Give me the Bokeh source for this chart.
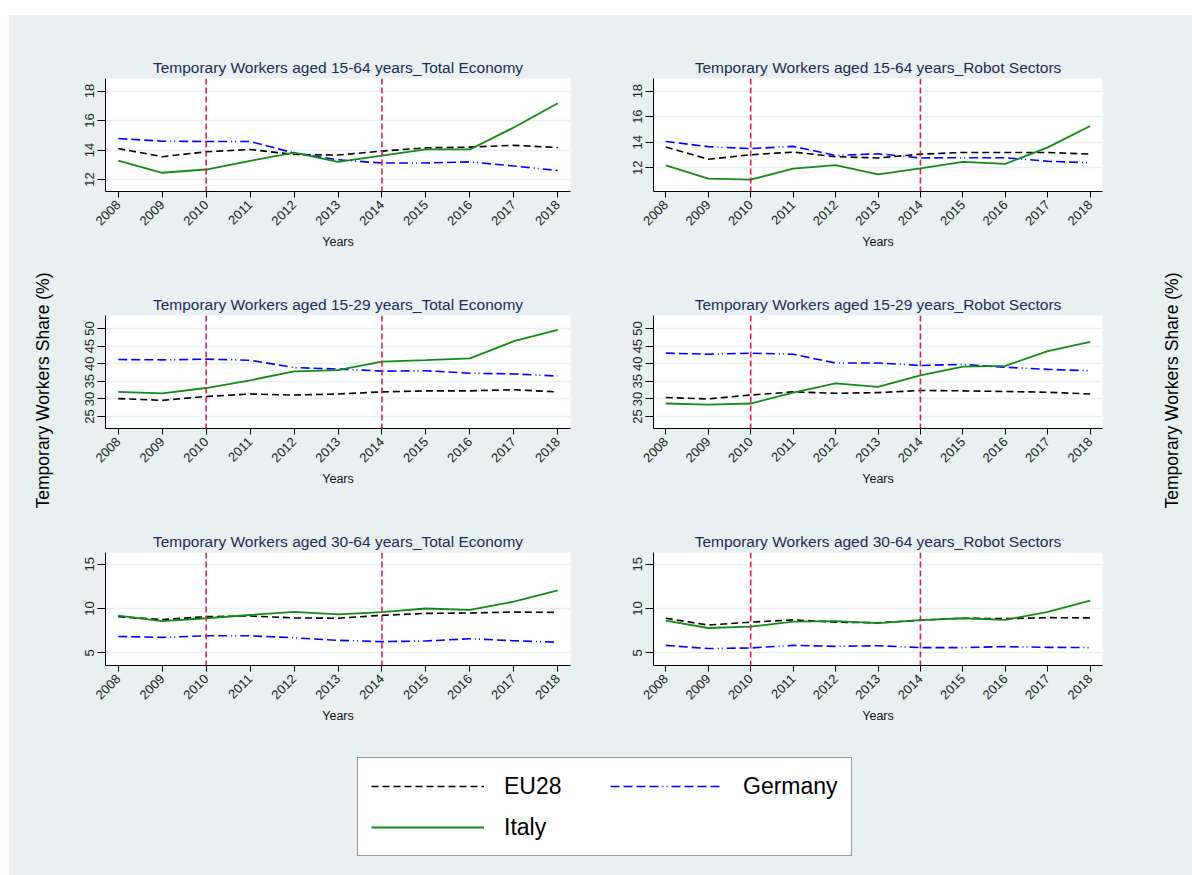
from math import pi
from bokeh.plotting import figure
from bokeh.layouts import row, column
from bokeh.models import Span, Label, Legend, LegendItem, Range1d, Spacer
from bokeh.embed import file_html
from bokeh.resources import INLINE

# ---------------- data ----------------
years = [2008, 2009, 2010, 2011, 2012, 2013, 2014, 2015, 2016, 2017, 2018]
reform_years = [2010, 2014]
series_names = ["EU28", "Germany", "Italy"]

titles = [
    "Temporary Workers aged 15-64 years_Total Economy",
    "Temporary Workers aged 15-64 years_Robot Sectors",
    "Temporary Workers aged 15-29 years_Total Economy",
    "Temporary Workers aged 15-29 years_Robot Sectors",
    "Temporary Workers aged 30-64 years_Total Economy",
    "Temporary Workers aged 30-64 years_Robot Sectors",
]

# 15-64, total economy
eu28_1564_total = [14.10, 13.55, 13.88, 14.04, 13.70, 13.66, 13.93, 14.15, 14.20, 14.32, 14.17]
germany_1564_total = [14.78, 14.60, 14.58, 14.58, 13.80, 13.34, 13.12, 13.12, 13.20, 12.92, 12.61]
italy_1564_total = [13.29, 12.46, 12.68, 13.27, 13.82, 13.20, 13.62, 14.04, 14.04, 15.53, 17.17]
# 15-64, robot sectors
eu28_1564_robot = [13.62, 12.66, 13.01, 13.22, 12.86, 12.76, 13.06, 13.19, 13.19, 13.19, 13.06]
germany_1564_robot = [14.05, 13.65, 13.49, 13.67, 12.96, 13.09, 12.76, 12.78, 12.78, 12.50, 12.38]
italy_1564_robot = [12.18, 11.14, 11.06, 11.92, 12.20, 11.47, 11.95, 12.46, 12.30, 13.59, 15.27]
# 15-29, total economy
eu28_1529_total = [30.1, 29.6, 30.7, 31.4, 31.1, 31.4, 32.0, 32.3, 32.3, 32.6, 32.0]
germany_1529_total = [41.2, 41.1, 41.3, 41.0, 38.9, 38.5, 37.9, 38.0, 37.3, 37.1, 36.5]
italy_1529_total = [32.0, 31.6, 33.1, 35.3, 37.8, 38.2, 40.6, 41.0, 41.5, 46.4, 49.6]
# 15-29, robot sectors
eu28_1529_robot = [30.4, 30.0, 31.1, 32.0, 31.6, 31.8, 32.4, 32.3, 32.1, 31.9, 31.4]
germany_1529_robot = [43.0, 42.7, 43.0, 42.7, 40.2, 40.2, 39.5, 39.8, 39.0, 38.4, 38.0]
italy_1529_robot = [28.7, 28.4, 28.7, 31.8, 34.4, 33.4, 36.7, 39.2, 39.4, 43.6, 46.2]
# 30-64, total economy
eu28_3064_total = [9.08, 8.75, 9.08, 9.16, 8.94, 8.90, 9.23, 9.45, 9.49, 9.60, 9.56]
germany_3064_total = [6.85, 6.74, 6.92, 6.92, 6.70, 6.41, 6.26, 6.34, 6.59, 6.37, 6.19]
italy_3064_total = [9.19, 8.57, 8.90, 9.27, 9.63, 9.34, 9.60, 10.00, 9.85, 10.77, 12.05]
# 30-64, robot sectors
eu28_3064_robot = [8.90, 8.13, 8.46, 8.72, 8.46, 8.39, 8.68, 8.90, 8.86, 8.97, 8.94]
germany_3064_robot = [5.84, 5.48, 5.55, 5.84, 5.73, 5.80, 5.59, 5.59, 5.70, 5.62, 5.59]
italy_3064_robot = [8.64, 7.80, 7.95, 8.53, 8.57, 8.35, 8.68, 8.90, 8.72, 9.63, 10.88]

ticks_1564 = [12, 14, 16, 18]
ticks_1529 = [25, 30, 35, 40, 45, 50]
ticks_3064 = [5, 10, 15]

y_label = "Temporary Workers Share (%)"
x_label = "Years"

# ---------------- style ----------------
BG = "#e8f0f2"
FONT = "Liberation Sans"
TITLE_COLOR = "#1c2c55"
STYLES = {
    "EU28": dict(line_color="black", line_width=1.6, line_dash="7 4"),
    "Germany": dict(line_color="#0000ff", line_width=1.6, line_dash="9 4 9 4 9 4 9 4 1 3 1 4"),
    "Italy": dict(line_color="#138a13", line_width=1.8),
}
ROW_H = 237


def make_panel(title, eu, de, it, yr, ticks, width, bl, br):
    p = figure(width=width, height=ROW_H, output_backend="svg", toolbar_location=None,
               x_range=Range1d(2007.71, 2018.29), y_range=Range1d(*yr),
               min_border_left=bl, min_border_right=br, min_border_top=63, min_border_bottom=57,
               background_fill_color="white", border_fill_color=BG, outline_line_color=None)
    p.title.text = title
    p.title.align = "center"
    p.title.text_font = FONT
    p.title.text_font_size = "15.5px"
    p.title.text_font_style = "normal"
    p.title.text_color = TITLE_COLOR
    p.title.standoff = 6

    for name, vals in zip(series_names, [eu, de, it]):
        p.line(years, vals, **STYLES[name])
    for ry in reform_years:
        p.add_layout(Span(location=ry, dimension="height", line_color="#d6204a",
                          line_dash="6 3", line_width=1.6))

    p.xaxis.ticker = years
    p.yaxis.ticker = ticks
    p.xaxis.major_label_orientation = pi / 4
    p.yaxis.major_label_orientation = "vertical"
    p.xaxis.axis_label = x_label
    for ax in (p.xaxis, p.yaxis):
        ax.major_label_text_font = FONT
        ax.major_label_text_font_size = "13px"
        ax.major_label_text_color = "#222222"
        ax.axis_line_color = "black"
        ax.major_tick_line_color = "black"
        ax.major_tick_in = 0
        ax.minor_tick_line_color = None
        ax.axis_label_text_font = FONT
        ax.axis_label_text_font_size = "12.5px"
        ax.axis_label_text_font_style = "normal"
        ax.axis_label_text_color = "#111111"
    p.xaxis.major_tick_out = 6
    p.yaxis.major_tick_out = 8
    p.yaxis.major_label_standoff = 3
    p.xaxis.axis_label_standoff = 3
    p.xgrid.visible = False
    p.ygrid.grid_line_color = BG
    p.ygrid.grid_line_width = 1.5
    return p


LW, RW = 542, 550
panels = [
    make_panel(titles[0], eu28_1564_total, germany_1564_total, italy_1564_total, (11.19, 18.85), ticks_1564, LW, 46, 31),
    make_panel(titles[1], eu28_1564_robot, germany_1564_robot, italy_1564_robot, (10.13, 18.99), ticks_1564, RW, 52, 49),
    make_panel(titles[2], eu28_1529_total, germany_1529_total, italy_1529_total, (21.6, 53.7), ticks_1529, LW, 46, 31),
    make_panel(titles[3], eu28_1529_robot, germany_1529_robot, italy_1529_robot, (21.6, 53.7), ticks_1529, RW, 52, 49),
    make_panel(titles[4], eu28_3064_total, germany_3064_total, italy_3064_total, (3.57, 16.32), ticks_3064, LW, 46, 31),
    make_panel(titles[5], eu28_3064_robot, germany_3064_robot, italy_3064_robot, (3.57, 16.32), ticks_3064, RW, 52, 49),
]


def side_label(width, xfrac):
    s = figure(width=width, height=3 * ROW_H, output_backend="svg", toolbar_location=None,
               x_range=Range1d(0, 1), y_range=Range1d(0, 1), x_axis_location=None, y_axis_location=None,
               min_border=0, background_fill_color=BG, border_fill_color=BG, outline_line_color=None)
    s.xgrid.visible = False
    s.ygrid.visible = False
    s.add_layout(Label(x=xfrac, y=0.4726, text=y_label, angle=pi / 2, text_align="center",
                       text_baseline="middle", text_font=FONT, text_font_size="17.5px",
                       text_color="black"))
    return s


left_lab = side_label(50, 0.66)
right_lab = side_label(41, 0.512)

BGSTYLE = {"background-color": BG}
grid = column(row(panels[0], panels[1], styles=BGSTYLE),
              row(panels[2], panels[3], styles=BGSTYLE),
              row(panels[4], panels[5], styles=BGSTYLE), styles=BGSTYLE)

# legend: series drawn outside the visible range so that only the legend shows
lg = figure(width=1183, height=149, output_backend="svg", toolbar_location=None,
            x_range=Range1d(0, 1), y_range=Range1d(0, 1), x_axis_location=None, y_axis_location=None,
            min_border=0, background_fill_color=BG, border_fill_color=BG, outline_line_color=None)
lg.xgrid.visible = False
lg.ygrid.visible = False
rend = {}
for name, vals in zip(series_names, [eu28_1564_total, germany_1564_total, italy_1564_total]):
    rend[name] = lg.line(years, vals, **STYLES[name])
legend_order = ["EU28", "Italy", "Germany"]  # column-major fill -> row-major look
items = [LegendItem(label=n, renderers=[rend[n]]) for n in legend_order]
legend = Legend(items=items, ncols=2, location=(348, 19), glyph_width=113, glyph_height=30,
                label_height=30, label_width=95, label_standoff=20, spacing=11, padding=13,
                border_line_color="#333333", border_line_width=1.5, background_fill_color="white",
                background_fill_alpha=1.0, label_text_font=FONT, label_text_font_size="23px",
                label_text_color="black")
lg.add_layout(legend, "center")

main = column(row(left_lab, grid, right_lab, styles=BGSTYLE), lg, styles=BGSTYLE)
layout = column(Spacer(width=1192, height=15), row(Spacer(width=9, height=10), main))

open("out.html", "w").write(file_html(layout, INLINE))
